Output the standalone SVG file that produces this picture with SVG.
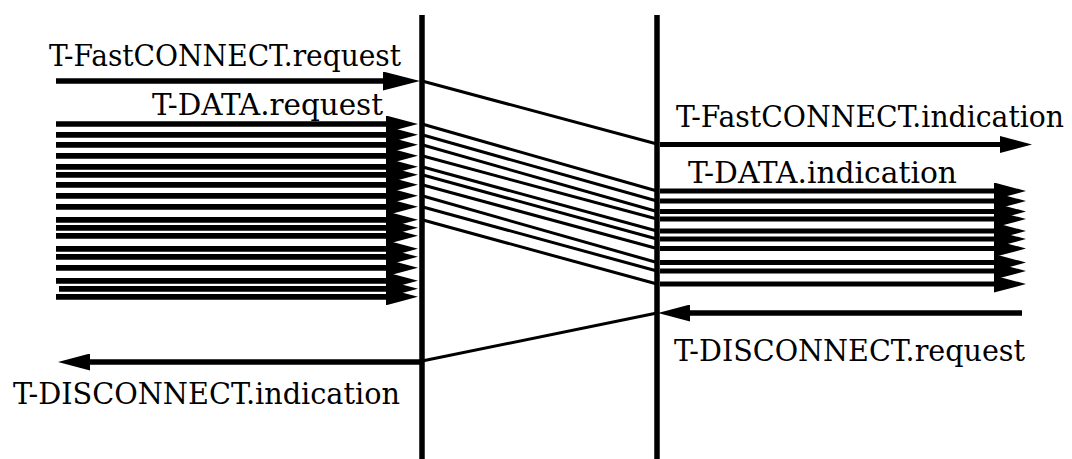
<svg xmlns="http://www.w3.org/2000/svg" width="1072" height="459" viewBox="0 0 1072 459">
  <style>
    .life { stroke: #000; stroke-width: 5.5; fill: none; }
    .prim { stroke: #000; stroke-width: 5.7; fill: none; }
    .prim-thin { stroke: #000; stroke-width: 5; fill: none; }
    .transit { stroke: #000; stroke-width: 3; fill: none; }
    text { font-family: "DejaVu Serif", "Liberation Serif", serif; font-size: 30px; fill: #000; }
  </style>
  <defs>
    <marker id="head" markerUnits="userSpaceOnUse" markerWidth="32" markerHeight="17" viewBox="0 0 32 17" refX="0" refY="8.5" orient="auto">
      <path d="M0,0 L32,8.5 L0,17 Z" fill="#000"/>
    </marker>
    <marker id="headL" markerUnits="userSpaceOnUse" markerWidth="37" markerHeight="19" viewBox="0 0 37 19" refX="0" refY="9.5" orient="auto">
      <path d="M0,0 L37,9.5 L0,19 Z" fill="#000"/>
    </marker>
  </defs>

  <rect width="1072" height="459" fill="#fff"/>

  <!-- service boundary of the sending side -->
  <g id="lifeline-sender">
    <line class="life" x1="422" y1="15" x2="422" y2="459"/>
  </g>

  <!-- service boundary of the receiving side -->
  <g id="lifeline-receiver">
    <line class="life" x1="657" y1="15" x2="657" y2="459"/>
  </g>

  <g id="connectors">
    <!-- connection set-up -->
    <line class="prim" x1="56" y1="81" x2="383" y2="81" marker-end="url(#headL)"/>
    <line class="transit" x1="422" y1="81" x2="657" y2="144"/>
    <line class="prim-thin" x1="660" y1="144.5" x2="1000" y2="144.5" marker-end="url(#head)"/>

    <!-- data requests -->
    <g class="requests">
      <line class="prim" x1="56" y1="124" x2="386" y2="124" marker-end="url(#head)"/>
      <line class="prim" x1="56" y1="134.8" x2="386" y2="134.8" marker-end="url(#head)"/>
      <line class="prim" x1="56" y1="144.8" x2="386" y2="144.8" marker-end="url(#head)"/>
      <line class="prim" x1="56" y1="155.8" x2="386" y2="155.8" marker-end="url(#head)"/>
      <line class="prim" x1="56" y1="166.8" x2="386" y2="166.8" marker-end="url(#head)"/>
      <line class="prim" x1="56" y1="174.8" x2="386" y2="174.8" marker-end="url(#head)"/>
      <line class="prim" x1="56" y1="184.8" x2="386" y2="184.8" marker-end="url(#head)"/>
      <line class="prim" x1="56" y1="195.8" x2="386" y2="195.8" marker-end="url(#head)"/>
      <line class="prim" x1="56" y1="206.8" x2="386" y2="206.8" marker-end="url(#head)"/>
      <line class="prim" x1="56" y1="219.8" x2="386" y2="219.8" marker-end="url(#head)"/>
      <line class="prim" x1="56" y1="227.8" x2="386" y2="227.8" marker-end="url(#head)"/>
      <line class="prim" x1="56" y1="235.8" x2="386" y2="235.8" marker-end="url(#head)"/>
      <line class="prim" x1="56" y1="248.8" x2="386" y2="248.8" marker-end="url(#head)"/>
      <line class="prim" x1="56" y1="256.8" x2="386" y2="256.8" marker-end="url(#head)"/>
      <line class="prim" x1="56" y1="267.8" x2="386" y2="267.8" marker-end="url(#head)"/>
      <line class="prim" x1="56" y1="280.8" x2="386" y2="280.8" marker-end="url(#head)"/>
      <line class="prim" x1="59" y1="288.8" x2="386" y2="288.8" marker-end="url(#head)"/>
      <line class="prim" x1="56" y1="296.8" x2="386" y2="296.8" marker-end="url(#head)"/>
    </g>

    <!-- data in transit -->
    <g class="transits">
      <line class="transit" x1="422" y1="124" x2="657" y2="191"/>
      <line class="transit" x1="422" y1="134.8" x2="657" y2="201"/>
      <line class="transit" x1="422" y1="144.8" x2="657" y2="211.5"/>
      <line class="transit" x1="422" y1="155.8" x2="657" y2="219"/>
      <line class="transit" x1="422" y1="166.8" x2="657" y2="231"/>
      <line class="transit" x1="422" y1="174.8" x2="657" y2="239"/>
      <line class="transit" x1="422" y1="184.8" x2="657" y2="248.5"/>
      <line class="transit" x1="422" y1="195.8" x2="657" y2="262.5"/>
      <line class="transit" x1="422" y1="206.8" x2="657" y2="271"/>
      <line class="transit" x1="422" y1="219.8" x2="657" y2="284"/>
    </g>

    <!-- data indications -->
    <g class="indications">
      <line class="prim-thin" x1="660" y1="191" x2="994" y2="191" marker-end="url(#head)"/>
      <line class="prim-thin" x1="660" y1="201" x2="994" y2="201" marker-end="url(#head)"/>
      <line class="prim-thin" x1="660" y1="211.5" x2="994" y2="211.5" marker-end="url(#head)"/>
      <line class="prim-thin" x1="660" y1="219" x2="994" y2="219" marker-end="url(#head)"/>
      <line class="prim-thin" x1="660" y1="231" x2="994" y2="231" marker-end="url(#head)"/>
      <line class="prim-thin" x1="660" y1="239" x2="994" y2="239" marker-end="url(#head)"/>
      <line class="prim-thin" x1="660" y1="248.5" x2="994" y2="248.5" marker-end="url(#head)"/>
      <line class="prim-thin" x1="660" y1="262.5" x2="994" y2="262.5" marker-end="url(#head)"/>
      <line class="prim-thin" x1="660" y1="271" x2="994" y2="271" marker-end="url(#head)"/>
      <line class="prim-thin" x1="660" y1="284" x2="994" y2="284" marker-end="url(#head)"/>
    </g>

    <!-- release -->
    <line class="prim" x1="1022" y1="313" x2="690" y2="313" marker-end="url(#head)"/>
    <line class="transit" x1="657" y1="313" x2="422" y2="361"/>
    <line class="prim" x1="422" y1="362" x2="90" y2="362" marker-end="url(#head)"/>
  </g>

  <g id="labels">
    <text x="49" y="66" textLength="352" lengthAdjust="spacingAndGlyphs">T-FastCONNECT.request</text>
    <text x="152" y="115" textLength="231" lengthAdjust="spacingAndGlyphs">T-DATA.request</text>
    <text x="676" y="127" textLength="388" lengthAdjust="spacingAndGlyphs">T-FastCONNECT.indication</text>
    <text x="688" y="183" textLength="269" lengthAdjust="spacingAndGlyphs">T-DATA.indication</text>
    <text x="674" y="361" textLength="351" lengthAdjust="spacingAndGlyphs">T-DISCONNECT.request</text>
    <text x="13" y="404" textLength="387" lengthAdjust="spacingAndGlyphs">T-DISCONNECT.indication</text>
  </g>
</svg>
